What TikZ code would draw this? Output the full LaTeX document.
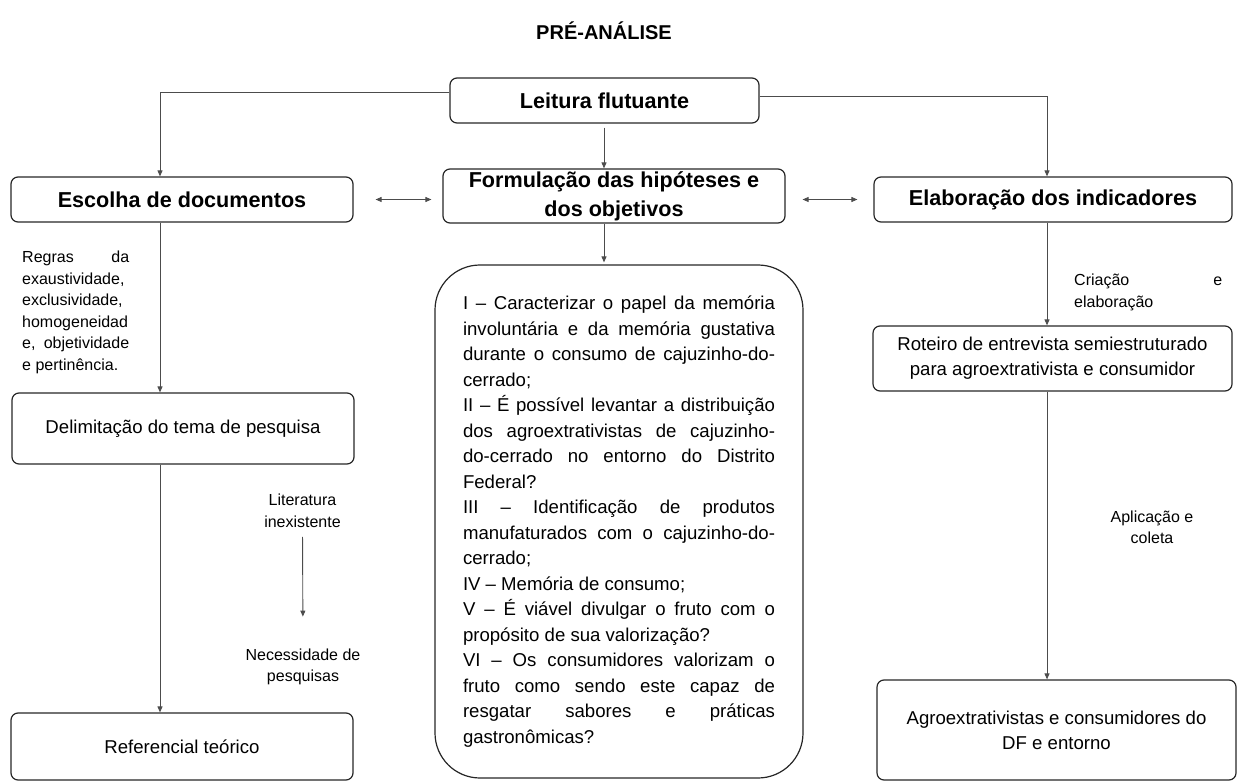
\documentclass[tikz,border=0pt]{standalone}
\usepackage{fontspec}
\setmainfont{Liberation Sans}
\usepackage{tikz}
\usetikzlibrary{arrows.meta}
\setlength{\parindent}{0pt}
\hyphenpenalty=10000
\exhyphenpenalty=10000
\tolerance=10000
\hbadness=10000

\tikzset{
  caixa/.style={draw=black!85, line width=1.2pt, rounded corners=7pt, align=center, inner sep=0pt, font=\fontsize{18.6}{25}\selectfont},
  cabeca/.style={caixa, font=\bfseries\fontsize{21.6}{29}\selectfont},
  rotulo/.style={inner sep=0pt, font=\fontsize{16}{21.5}\selectfont},
  liga/.style={draw=black!70, line width=0.9pt, -{Triangle[length=6pt,width=5pt]}},
  dupla/.style={liga, {Triangle[length=6pt,width=5pt]}-{Triangle[length=6pt,width=5pt]}},
}

\begin{document}
\begin{tikzpicture}[x=1pt, y=-1pt]
      \useasboundingbox (0,0) rectangle (1241,783);
      \coordinate (lcol) at (160,0);
      \coordinate (mcol) at (604,0);
      \coordinate (rcol) at (1047,0);

      \node[font=\bfseries\fontsize{20}{24}\selectfont] (tit) at (604,31) {PRÉ-ANÁLISE};

      \node[cabeca, minimum width=309pt, minimum height=45pt] (lf) at (604.5,100.5) {Leitura flutuante};
      \node[cabeca, minimum width=342pt, minimum height=45pt] (esc) at (182,199.5) {Escolha de documentos};
      \node[cabeca, minimum width=342pt, minimum height=54pt] (form) at (614,196) {Formulação das hipóteses e\\dos objetivos};
      \node[cabeca, minimum width=358pt, minimum height=45pt] (elab) at (1053,199.5) {Elaboração dos indicadores};

      % left column
      \node[rotulo, anchor=north west, text width=107pt, align=justify] (regras) at (22,251) {Regras da\linebreak
        exaustividade,\newline exclusividade,\newline homogeneidad\newline e, objetividade\linebreak e pertinência.};
      \node[caixa, minimum width=342pt, minimum height=71pt] (delim) at (183,428.5) {Delimitação do tema de pesquisa};
      \node[rotulo, align=center] (lit) at (302.5,511) {Literatura\\inexistente};
      \node[rotulo, align=center] (nec) at (303,667) {Necessidade de\\pesquisas};
      \node[caixa, minimum width=342pt, minimum height=67pt] (ref) at (182,746.5) {Referencial teórico};

      % middle column
      \node[caixa, minimum width=368pt, minimum height=513pt, rounded corners=45pt, text width=312pt, align=justify,
            font=\fontsize{18.6}{25.5}\selectfont] (hip) at (619,521.5) {I – Caracterizar o papel da memória\linebreak
        involuntária e da memória gustativa\linebreak
        durante o consumo de cajuzinho-do-\linebreak
        cerrado;\newline
        II – É possível levantar a distribuição\linebreak
        dos agroextrativistas de cajuzinho-\linebreak
        do-cerrado no entorno do Distrito\linebreak
        Federal?\newline
        III – Identificação de produtos\linebreak
        manufaturados com o cajuzinho-do-\linebreak
        cerrado;\newline
        IV – Memória de consumo;\newline
        V – É viável divulgar o fruto com o\linebreak
        propósito de sua valorização?\newline
        VI – Os consumidores valorizam o\linebreak
        fruto como sendo este capaz de\linebreak
        resgatar sabores e práticas\linebreak
        gastronômicas?};

      % right column
      \node[rotulo, anchor=north west, text width=148pt, align=justify] (cria) at (1074,274) {Criação e\linebreak elaboração};
      \node[caixa, minimum width=359pt, minimum height=65pt] (rot) at (1052.5,358.5) {Roteiro de entrevista semiestruturado\\para agroextrativista e consumidor};
      \node[rotulo, align=center] (apl) at (1152,527.5) {Aplicação e\\coleta};
      \node[caixa, minimum width=359pt, minimum height=100pt] (agro) at (1056.5,730) {Agroextrativistas e consumidores do\\DF e entorno};

      \draw[liga] ([yshift=8pt]lf.west) -| (esc.north -| lcol);
      \draw[liga] ([yshift=4pt]lf.east) -| (elab.north -| rcol);
      \draw[liga, shorten <=4pt] (lf.south -| mcol) -- (form.north -| mcol);
      \draw[liga, shorten >=2pt] (form.south -| mcol) -- (hip.north -| mcol);
      \draw[dupla, shorten <=22pt, shorten >=11pt] (esc.east) -- (esc.east -| form.west);
      \draw[dupla, shorten <=17pt, shorten >=16pt] (form.east |- elab.west) -- (elab.west);

      \draw[liga] (esc.south -| lcol) -- (delim.north -| lcol);
      \draw[liga] (delim.south -| lcol) -- (ref.north -| lcol);
      \draw[liga, shorten <=9pt, shorten >=32pt] (lit.south) -- (nec.north);
      \draw[liga] (elab.south -| rcol) -- (rot.north -| rcol);
      \draw[liga] (rot.south -| rcol) -- (agro.north -| rcol);
    \end{tikzpicture}
\end{document}
